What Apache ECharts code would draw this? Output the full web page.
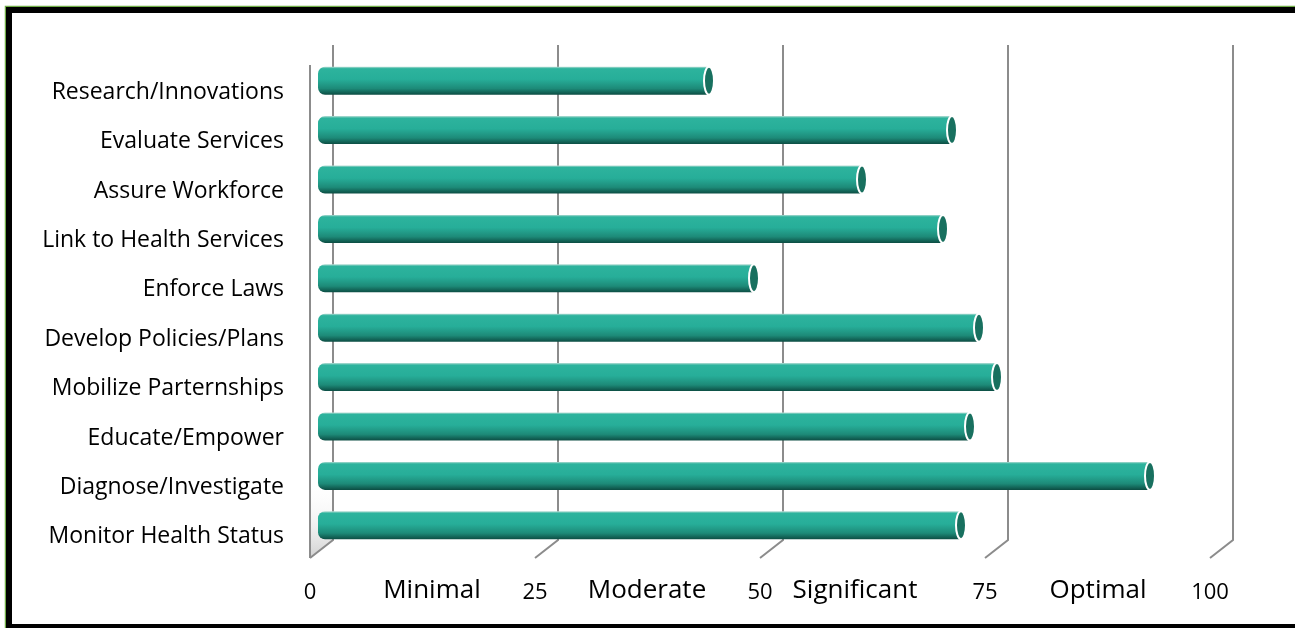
<!DOCTYPE html>
<html>
<head>
<meta charset="utf-8">
<script src="https://cdn.jsdelivr.net/npm/echarts@6/dist/echarts.min.js"></script>
<style>
html,body{margin:0;padding:0;background:#fff;}
#chart{width:1295px;height:628px;}
</style>
</head>
<body>
<div id="chart"></div>
<script>
const categories = ['Research/Innovations','Evaluate Services','Assure Workforce','Link to Health Services','Enforce Laws','Develop Policies/Plans','Mobilize Parternships','Educate/Empower','Diagnose/Investigate','Monitor Health Status'];
const scores = [43, 70, 60, 69, 48, 73, 75, 72, 92, 71];
const xTicks = [0, 25, 50, 75, 100];
const bandNames = ['Minimal', 'Moderate', 'Significant', 'Optimal'];

const FONT = '"Open Sans", Lato, sans-serif';
const bandShift = [5, 25, 59, 23];
const bandItems = bandNames.map((n, i) => ({value: n, textStyle: {padding: [0, bandShift[i], 0, 0]}}));

const chart = echarts.init(document.getElementById('chart'), null, {renderer: 'canvas'});

const option = {
  backgroundColor: '#fff',
  animation: false,
  grid: {left: 322, right: 73, top: 56, bottom: 78},
  xAxis: [
    {
      type: 'value', min: 0, max: 100, interval: 25,
      axisLine: {show: false}, axisTick: {show: false}, splitLine: {show: false},
      axisLabel: {margin: 32, padding: [0, 24, 0, 0], fontSize: 22, color: '#000', fontFamily: FONT}
    },
    {
      type: 'category', position: 'bottom', data: bandItems, offset: 0,
      axisLine: {show: false}, axisTick: {show: false}, splitLine: {show: false},
      axisLabel: {margin: 28, fontSize: 26, color: '#000', fontFamily: FONT, interval: 0}
    }
  ],
  yAxis: {
    type: 'category', data: categories, inverse: true,
    axisLine: {show: false}, axisTick: {show: false}, splitLine: {show: false},
    axisLabel: {margin: 38, fontSize: 23, color: '#000', fontFamily: FONT, verticalAlign: 'top', lineHeight: 23}
  },
  series: [
    {
      type: 'custom', name: 'grid', coordinateSystem: 'cartesian2d', xAxisIndex: 0, yAxisIndex: 0,
      data: xTicks.map(v => [v, 0]), z: 1, silent: true,
      renderItem: function (params, api) {
        const x = api.coord([api.value(0), 0])[0];
        const cs = params.coordSys;
        const top = cs.y - 11, bb = cs.y + cs.height - 10, fy = cs.y + cs.height + 8;
        const bx = x + 11, fx = x - 12;
        const children = [{
          type: 'polyline', shape: {points: [[bx, top], [bx, bb], [fx, fy]]},
          style: {stroke: '#8c8c8c', lineWidth: 2, fill: null}
        }];
        if (api.value(0) === 0) {
          children.unshift({
            type: 'polygon', shape: {points: [[fx, top + 20], [bx, top], [bx, bb], [fx, fy]]},
            style: {fill: new echarts.graphic.LinearGradient(0, 0, 0, 1, [
              {offset: 0, color: 'rgba(255,255,255,0)'}, {offset: 0.85, color: 'rgba(255,255,255,0)'},
              {offset: 1, color: 'rgba(180,180,180,0.6)'}])}
          });
          children.push({
            type: 'line', shape: {x1: fx, y1: top + 20, x2: fx, y2: fy},
            style: {stroke: '#8c8c8c', lineWidth: 2}
          });
        }
        return {type: 'group', children: children};
      }
    },
    {
      type: 'custom', name: 'Score', coordinateSystem: 'cartesian2d', xAxisIndex: 0, yAxisIndex: 0,
      data: scores.map((v, i) => [v, i]), z: 3,
      renderItem: function (params, api) {
        const p0 = api.coord([0, api.value(1)]);
        const p1 = api.coord([api.value(0), api.value(1)]);
        const h = 28, cy = p0[1];
        const grad = new echarts.graphic.LinearGradient(0, 0, 0, 1, [
          {offset: 0, color: '#b5ddd5'},
          {offset: 0.07, color: '#2db39d'},
          {offset: 0.45, color: '#27ae99'},
          {offset: 0.78, color: '#1d8a78'},
          {offset: 1, color: '#0c4d43'}
        ]);
        return {
          type: 'group',
          children: [
            {type: 'rect', shape: {x: p0[0] - 4, y: cy - h / 2, width: p1[0] - p0[0] + 4, height: h, r: [7, 0, 0, 7]},
             style: {fill: grad}},
            {type: 'ellipse', shape: {cx: p1[0], cy: cy, rx: 5, ry: h / 2},
             style: {fill: '#18705f', stroke: '#ffffff', lineWidth: 2}}
          ]
        };
      }
    }
  ],
  graphic: [
    {type: 'rect', shape: {x: 5.5, y: 6.5, width: 1320, height: 660}, style: {stroke: '#70ad47', lineWidth: 1.5, fill: null}, silent: true},
    {type: 'rect', shape: {x: 9, y: 10, width: 1320, height: 617}, style: {stroke: '#000', lineWidth: 6, fill: null}, silent: true}
  ]
};
chart.setOption(option);
</script>
</body>
</html>
